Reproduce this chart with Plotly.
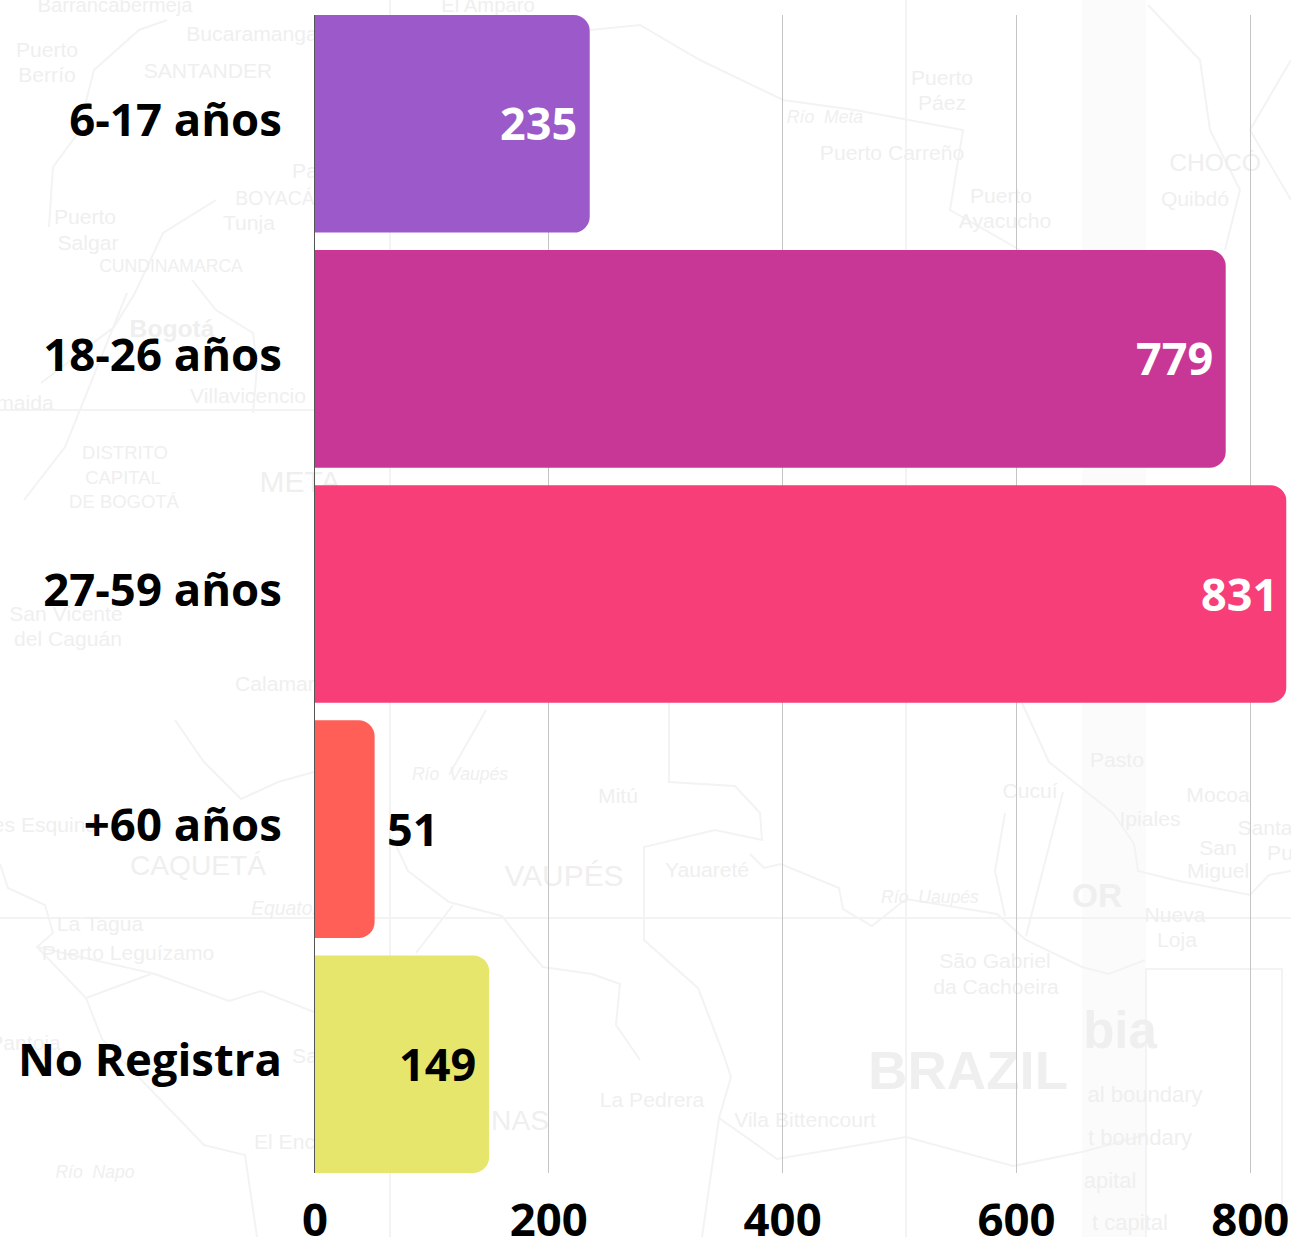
import plotly.graph_objects as go

W, H = 1291, 1237

categories = ["6-17 años", "18-26 años", "27-59 años", "+60 años", "No Registra"]
values = [235, 779, 831, 51, 149]
bar_colors = ["#9b59c9", "#c93796", "#f73e79", "#ff5f57", "#e6e66c"]
label_colors = ["#ffffff", "#ffffff", "#ffffff", "#000000", "#000000"]
label_sides = ["inside", "inside", "inside", "outside", "inside"]
label_offsets = [-11, -11, -7, 10, -11]
x_ticks = [0, 200, 400, 600, 800]

# Faint map behind the chart (decoration only): name, centre x, centre y, font size, style
map_labels = [
    ("Barrancabermeja", 115, 3, 23, ""), ("El Amparo", 488, 3, 23, ""), ("Puerto", 47, 47, 24, ""),
    ("Berrío", 47, 72, 24, ""), ("Bucaramanga", 252, 31, 24, ""), ("SANTANDER", 208, 68, 24, ""),
    ("Pa", 305, 168, 24, ""), ("BOYACÁ", 275, 197, 22, ""), ("Tunja", 249, 220, 24, ""),
    ("Puerto", 85, 214, 24, ""), ("Salgar", 88, 240, 24, ""), ("CUNDINAMARCA", 171, 264, 20, ""),
    ("Bogotá", 172, 326, 28, "b"), ("Villavicencio", 248, 393, 24, ""), ("maida", 25, 400, 24, ""),
    ("DISTRITO", 125, 451, 21, ""), ("CAPITAL", 123, 476, 21, ""), ("DE BOGOTÁ", 124, 500, 21, ""),
    ("META", 300, 479, 34, ""), ("Puerto Carreño", 892, 150, 24, ""), ("Puerto", 942, 75, 24, ""),
    ("Páez", 942, 100, 24, ""), ("Puerto", 1001, 193, 24, ""), ("Ayacucho", 1005, 218, 24, ""),
    ("CHOCÓ", 1215, 160, 28, ""), ("Quibdó", 1195, 196, 24, ""), ("Río  Meta", 825, 115, 20, "i"),
    ("San Vicente", 66, 611, 24, ""), ("del Caguán", 68, 636, 24, ""), ("Calamar", 275, 681, 24, ""),
    ("es Esquina", 45, 822, 24, ""), ("CAQUETÁ", 198, 862, 32, ""), ("Equator", 285, 907, 22, "i"),
    ("La Tagua", 100, 921, 24, ""), ("Puerto Leguízamo", 128, 950, 24, ""), ("Pantoja", 25, 1040, 24, ""),
    ("El Encanto", 305, 1139, 24, ""), ("Sa", 305, 1053, 24, ""), ("NAS", 520, 1117, 32, ""),
    ("Mitú", 618, 793, 24, ""), ("VAUPÉS", 564, 873, 34, ""), ("Yauareté", 707, 867, 24, ""),
    ("Río  Uaupés", 930, 895, 20, "i"), ("Cucuí", 1030, 788, 24, ""), ("Pasto", 1117, 757, 24, ""),
    ("Mocoa", 1218, 792, 24, ""), ("Ipiales", 1150, 816, 24, ""), ("Santa", 1265, 825, 24, ""),
    ("Pu", 1280, 850, 24, ""), ("San", 1218, 845, 24, ""), ("Miguel", 1218, 868, 24, ""),
    ("Nueva", 1175, 912, 24, ""), ("Loja", 1177, 937, 24, ""), ("São Gabriel", 995, 958, 24, ""),
    ("da Cachoeira", 996, 984, 24, ""), ("La Pedrera", 652, 1097, 24, ""),
    ("Vila Bittencourt", 805, 1117, 24, ""), ("Río  Vaupés", 460, 772, 20, "i"),
    ("Río  Napo", 95, 1170, 20, "i"),
    ("BRAZIL", 968, 1065, 62, "b"), ("OR", 1097, 892, 38, "b"), ("bia", 1120, 1025, 58, "b"),
    ("al boundary", 1145, 1092, 25, ""), ("t boundary", 1140, 1135, 25, ""),
    ("apital", 1110, 1178, 25, ""), ("t capital", 1130, 1220, 25, ""),
]
map_lines = [
    [(1022, 703), (1049, 762), (1113, 813), (1134, 844), (1138, 871), (1179, 881), (1250, 895), (1269, 875), (1291, 871)],
    [(669, 703), (669, 782), (735, 786), (760, 813), (762, 840), (715, 830), (644, 847), (644, 940), (698, 988),
     (723, 1053), (731, 1077), (719, 1118), (702, 1237)],
    [(750, 854), (764, 868), (781, 864), (839, 888), (843, 909), (872, 926), (906, 899), (997, 914), (1026, 940),
     (1082, 967), (1109, 974), (1145, 960)],
    [(719, 1118), (777, 1159), (906, 1137), (1013, 1166), (1082, 1152), (1145, 1135)],
    [(1005, 813), (995, 871), (1005, 916)], [(1063, 792), (1026, 936)],
    [(175, 720), (204, 762), (241, 799), (278, 782), (314, 772)],
    [(392, 837), (408, 871), (449, 902), (502, 916), (531, 953), (543, 967), (592, 974), (620, 984), (616, 1025), (640, 1060)],
    [(449, 775), (486, 710)], [(416, 953), (453, 905)],
    [(0, 864), (8, 888), (45, 905), (53, 933), (37, 947), (86, 998), (102, 1039), (204, 1145), (245, 1155), (257, 1237)],
    [(37, 947), (155, 974), (229, 1001), (261, 991), (314, 1012)], [(86, 998), (151, 974)],
    [(49, 227), (53, 167), (78, 133), (94, 70), (139, 30), (167, 20)],
    [(127, 293), (65, 447), (24, 500)],
    [(216, 200), (163, 233), (135, 293), (114, 327), (41, 383)],
    [(192, 280), (216, 310), (253, 333), (257, 367), (253, 413)],
    [(590, 30), (640, 25), (700, 60), (783, 100), (855, 110), (963, 130), (950, 210), (1020, 250)],
    [(1148, 5), (1200, 60), (1210, 130), (1240, 190), (1225, 250)],
    [(1291, 60), (1250, 130), (1291, 200)],
    [(0, 918), (1291, 918)], [(0, 410), (640, 410)], [(390, 0), (390, 1237)], [(906, 0), (906, 1237)],
    [(1146, 1237), (1146, 969), (1282, 969), (1282, 1237)],
]

FONT = "Open Sans, sans-serif"
NARROW = "Liberation Sans, sans-serif"
MAP_SCALE = 0.88


def px(x):
    return x / W


def py(y):
    return 1 - y / H


shapes = [dict(type="rect", xref="paper", yref="paper", x0=px(1082), x1=px(1146), y0=0, y1=1, layer="below",
               line_width=0, fillcolor="#fbfbfb")]
for pts in map_lines:
    path = "M " + " L ".join(f"{px(a):.5f},{py(b):.5f}" for a, b in pts)
    shapes.append(dict(type="path", xref="paper", yref="paper", path=path, layer="below",
                       line=dict(color="#f3f3f3", width=2)))
for name, cx, cy, size, style in map_labels:
    text = f"<b>{name}</b>" if style == "b" else f"<i>{name}</i>" if style == "i" else name
    half = size * 3
    shapes.append(dict(type="rect", xref="paper", yref="paper", layer="below", line_width=0,
                       fillcolor="rgba(0,0,0,0)", x0=px(cx - half * 2), x1=px(cx + half * 2),
                       y0=py(cy + half), y1=py(cy - half),
                       label=dict(text=text, textposition="middle center",
                                  font=dict(family=NARROW, size=size * MAP_SCALE, color="#efefef"))))

value_labels = [
    dict(x=v, y=c, xref="x", yref="y", text=str(v), showarrow=False, yanchor="middle",
         xanchor="right" if s == "inside" else "left", xshift=dx, yshift=1,
         font=dict(family=FONT, size=45, color=col, weight=700))
    for v, c, s, col, dx in zip(values, categories, label_sides, label_colors, label_offsets)
]

fig = go.Figure(go.Bar(
    x=values, y=categories, orientation="h",
    marker=dict(color=bar_colors, line_width=0), cliponaxis=False, hoverinfo="skip",
))
fig.update_layout(
    width=W, height=H, margin=dict(l=0, r=0, t=0, b=0),
    paper_bgcolor="#ffffff", plot_bgcolor="rgba(0,0,0,0)",
    bargap=0.0745, barcornerradius=16, showlegend=False, shapes=shapes, annotations=value_labels,
    font=dict(family=FONT, color="#000000"),
    xaxis=dict(domain=[px(315), px(1286.5)], range=[0, 831], tickvals=x_ticks, showgrid=True, gridcolor="#c4c4c4",
               gridwidth=1, zeroline=False, showline=False, ticks="", automargin=False, ticklabelstandoff=16,
               tickfont=dict(family=FONT, size=45.5, color="#000000", weight=700)),
    yaxis=dict(domain=[py(1173), py(15)], range=[4.46275, -0.46275], showgrid=False, showline=True,
               linecolor="#555555", linewidth=1, ticks="", automargin=False, ticklabelstandoff=23,
               ticklabelshift=4,
               tickfont=dict(family=FONT, size=45.5, color="#000000", weight=700)),
)
fig.write_html("out.html", config={"displayModeBar": False},
               post_script="document.documentElement.style.overflow='hidden';document.body.style.margin='0';")
